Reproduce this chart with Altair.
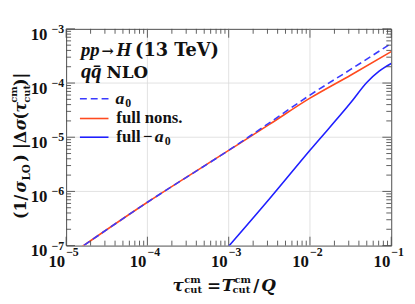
import altair as alt
import pandas as pd

# ---- data ----
tau_main = [1.0e-5, 1.0e-4, 1.0e-3, 3.2e-3, 1.0e-2, 3.2e-2, 1.0e-1]
a0_vals = [6.0e-8, 6.3e-7, 5.75e-6, 1.86e-5, 6.0e-5, 1.8e-4, 5.4e-4]
full_vals = [6.0e-8, 6.3e-7, 5.7e-6, 1.74e-5, 5.25e-5, 1.41e-4, 3.8e-4]
tau_diff = [9.5e-4, 3.2e-3, 1.0e-2, 3.2e-2, 5.0e-2, 7.1e-2, 8.3e-2, 1.0e-1]
diff_vals = [8.9e-8, 7.4e-7, 5.75e-6, 4.4e-5, 1.02e-4, 1.66e-4, 1.95e-4, 2.3e-4]

x_major = [1e-5, 1e-4, 1e-3, 1e-2, 1e-1]
y_major = [1e-7, 1e-6, 1e-5, 1e-4, 1e-3]
x_exp = ["−5", "−4", "−3", "−2", "−1"]
y_exp = ["−7", "−6", "−5", "−4", "−3"]
x_grid = [1e-4, 1e-3, 1e-2]
y_grid = [1e-6, 1e-5, 1e-4]
minor_factors = [2, 3, 4, 5, 6, 7, 8, 9]
x_minor = [f * d for d in [1e-5, 1e-4, 1e-3, 1e-2] for f in minor_factors]
y_minor = [f * d for d in [1e-7, 1e-6, 1e-5, 1e-4] for f in minor_factors]

W, H = 330, 220
LIB = "Liberation Serif"
DJV = "DejaVu Serif"
FRAME = "#4d4d4d"
BLUE_D = "#3a3aff"
ORANGE = "#ff4a1f"
BLUE = "#1f1fff"
INK = "#111111"

xs = alt.Scale(type="log", domain=[1e-5, 1e-1])
ys = alt.Scale(type="log", domain=[1e-7, 1e-3])


def X(f):
    return alt.X(f, type="quantitative", scale=xs, axis=None)


def Y(f):
    return alt.Y(f, type="quantitative", scale=ys, axis=None)


layers = []

# grid
layers.append(alt.Chart(pd.DataFrame({"x": x_grid})).mark_rule(color="#dadada", strokeWidth=0.8).encode(x=X("x")))
layers.append(alt.Chart(pd.DataFrame({"y": y_grid})).mark_rule(color="#dadada", strokeWidth=0.8).encode(y=Y("y")))

# curves
df_main = pd.DataFrame({"t": tau_main, "a0": a0_vals, "full": full_vals})
df_diff = pd.DataFrame({"t": tau_diff, "d": diff_vals})
layers.append(alt.Chart(df_main).mark_line(clip=True, color=ORANGE, strokeWidth=1.6, interpolate="monotone")
              .encode(x=X("t"), y=Y("full")))
layers.append(alt.Chart(df_main).mark_line(clip=True, color=BLUE_D, strokeWidth=1.6, strokeDash=[7, 4], interpolate="monotone")
              .encode(x=X("t"), y=Y("a0")))
layers.append(alt.Chart(df_diff).mark_line(clip=True, color=BLUE, strokeWidth=1.6, interpolate="monotone")
              .encode(x=X("t"), y=Y("d")))


# ticks (inward, all four sides)
def xticks(vals, L):
    d = pd.DataFrame({"x": vals})
    b = alt.Chart(d).mark_rule(color=FRAME, strokeWidth=0.9).encode(x=X("x"), y=alt.value(H), y2=alt.value(H - L))
    t = alt.Chart(d).mark_rule(color=FRAME, strokeWidth=0.9).encode(x=X("x"), y=alt.value(0), y2=alt.value(L))
    return [b, t]


def yticks(vals, L):
    d = pd.DataFrame({"y": vals})
    l = alt.Chart(d).mark_rule(color=FRAME, strokeWidth=0.9).encode(y=Y("y"), x=alt.value(0), x2=alt.value(L))
    r = alt.Chart(d).mark_rule(color=FRAME, strokeWidth=0.9).encode(y=Y("y"), x=alt.value(W), x2=alt.value(W - L))
    return [l, r]


layers += xticks(x_minor, 5) + xticks(x_major, 9) + yticks(y_minor, 5) + yticks(y_major, 9)

# tick labels
dxl = pd.DataFrame({"x": x_major, "ten": ["10"] * 5, "e": x_exp})
layers.append(alt.Chart(dxl).mark_text(align="right", dx=-1, baseline="alphabetic", font=LIB, fontSize=17, fontWeight="bold", color=INK)
              .encode(x=X("x"), y=alt.value(242), text="ten:N"))
layers.append(alt.Chart(dxl).mark_text(align="left", dx=0, baseline="alphabetic", font=LIB, fontSize=12, fontWeight="bold", color=INK)
              .encode(x=X("x"), y=alt.value(231), text="e:N"))
dyl = pd.DataFrame({"y": y_major, "ten": ["10"] * 5, "e": y_exp})
layers.append(alt.Chart(dyl).mark_text(align="right", dy=11, baseline="alphabetic", font=LIB, fontSize=17, fontWeight="bold", color=INK)
              .encode(y=Y("y"), x=alt.value(-19), text="ten:N"))
layers.append(alt.Chart(dyl).mark_text(align="right", dy=4, baseline="alphabetic", font=LIB, fontSize=12, fontWeight="bold", color=INK)
              .encode(y=Y("y"), x=alt.value(-2), text="e:N"))


def txt(s, x, y, size=17, italic=False, angle=0, font=LIB):
    kw = dict(align="left", baseline="alphabetic", font=font, fontSize=size, fontWeight="bold", color=INK)
    if italic:
        kw["fontStyle"] = "italic"
    if angle:
        kw["angle"] = angle
    return alt.Chart(pd.DataFrame({"t": [s]})).mark_text(**kw).encode(x=alt.value(x), y=alt.value(y), text="t:N")


# annotation block
layers += [
    txt("pp", 15, 28, 19, True),
    txt("→", 36, 28, 15, False, 0, DJV),
    txt("H", 51, 28, 20, True),
    txt("(13 TeV)", 70, 28, 18, False, 0, DJV),
    txt("qq̄", 15, 50, 21, True),
    txt("NLO", 41, 50, 17, False, 0, DJV),
]

# legend
leg_y = [71, 91, 110]
layers.append(alt.Chart(pd.DataFrame({"k": [0]})).mark_rule(color=BLUE_D, strokeWidth=1.6, strokeDash=[7, 4])
              .encode(x=alt.value(14), x2=alt.value(43), y=alt.value(leg_y[0])))
layers.append(alt.Chart(pd.DataFrame({"k": [0]})).mark_rule(color=ORANGE, strokeWidth=1.6)
              .encode(x=alt.value(14), x2=alt.value(43), y=alt.value(leg_y[1])))
layers.append(alt.Chart(pd.DataFrame({"k": [0]})).mark_rule(color=BLUE, strokeWidth=1.6)
              .encode(x=alt.value(14), x2=alt.value(43), y=alt.value(leg_y[2])))
layers += [
    txt("a", 50, 76, 18, True),
    txt("0", 60, 79, 12),
    txt("full nons.", 51, 96, 17),
    txt("full", 51, 115, 17),
    txt("−", 78, 115, 17),
    txt("a", 90, 115, 18, True),
    txt("0", 100, 118, 12),
]

# x title
layers += [
    txt("τ", 108, 266, 17, True, 0, DJV),
    txt("cm", 120, 258, 10, False, 0, DJV),
    txt("cut", 120, 268, 10, False, 0, DJV),
    txt("=", 143, 266, 17, False, 0, DJV),
    txt("T", 158, 266, 17, True, 0, DJV),
    txt("cm", 171, 258, 10, False, 0, DJV),
    txt("cut", 169, 268, 10, False, 0, DJV),
    txt("/", 190, 266, 17, False, 0, DJV),
    txt("Q", 198, 266, 17, True, 0, DJV),
]

# y title (rotated)
MX, SX, BX = -40.5, -49.5, -37
layers += [
    txt("(1/", MX, 193, 16, False, 270, DJV),
    txt("σ", MX, 166, 16, True, 270, DJV),
    txt("LO", BX, 154, 10.5, False, 270, DJV),
    txt(")", MX, 135, 16, False, 270, DJV),
    txt("|Δ", MX, 122, 16, False, 270, DJV),
    txt("σ", MX, 103, 16, True, 270, DJV),
    txt("(", MX, 92, 16, False, 270, DJV),
    txt("τ", MX, 85, 16, True, 270, DJV),
    txt("cm", SX, 75, 10, False, 270, DJV),
    txt("cut", BX, 75, 10, False, 270, DJV),
    txt(")|", MX, 58, 16, False, 270, DJV),
]

chart = (
    alt.layer(*layers)
    .properties(width=W, height=H, padding={"left": 59, "top": 19, "right": 16, "bottom": 49},
                autosize=alt.AutoSizeParams(type="none"))
    .configure_view(stroke=FRAME, strokeWidth=1)
)

chart.save("out.html", embed_options={"renderer": "svg", "actions": False})
